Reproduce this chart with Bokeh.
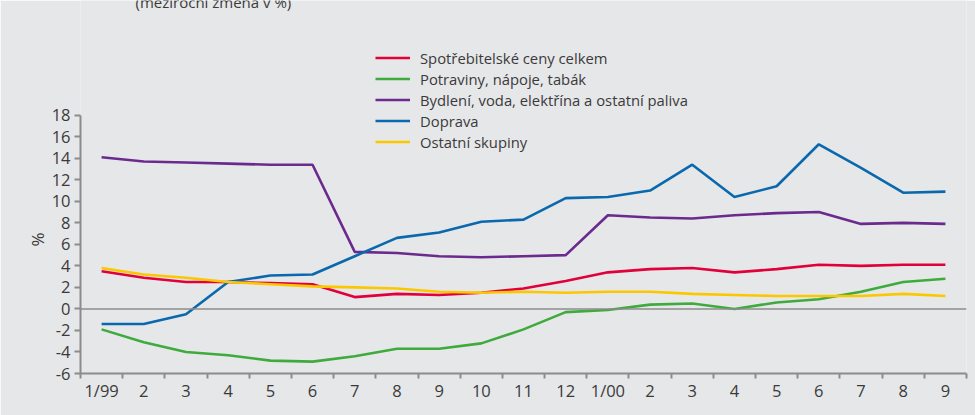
from bokeh.plotting import figure
from bokeh.models import ColumnDataSource, Legend, LegendItem, FixedTicker, Span, Label, Range1d, Title
from bokeh.embed import file_html
from bokeh.resources import INLINE

months = ["1/99", "2", "3", "4", "5", "6", "7", "8", "9", "10", "11", "12",
          "1/00", "2", "3", "4", "5", "6", "7", "8", "9"]

spotrebitelske = [3.5, 2.9, 2.5, 2.5, 2.4, 2.3, 1.1, 1.4, 1.3, 1.5, 1.9, 2.6,
                  3.4, 3.7, 3.8, 3.4, 3.7, 4.1, 4.0, 4.1, 4.1]
potraviny = [-1.9, -3.1, -4.0, -4.3, -4.8, -4.9, -4.4, -3.7, -3.7, -3.2, -1.9, -0.3,
             -0.1, 0.4, 0.5, 0.0, 0.6, 0.9, 1.6, 2.5, 2.8]
bydleni = [14.1, 13.7, 13.6, 13.5, 13.4, 13.4, 5.3, 5.2, 4.9, 4.8, 4.9, 5.0,
           8.7, 8.5, 8.4, 8.7, 8.9, 9.0, 7.9, 8.0, 7.9]
doprava = [-1.4, -1.4, -0.5, 2.5, 3.1, 3.2, 4.9, 6.6, 7.1, 8.1, 8.3, 10.3,
           10.4, 11.0, 13.4, 10.4, 11.4, 15.3, 13.1, 10.8, 10.9]
ostatni = [3.8, 3.2, 2.9, 2.5, 2.3, 2.1, 2.0, 1.9, 1.6, 1.5, 1.6, 1.5,
           1.6, 1.6, 1.4, 1.3, 1.2, 1.2, 1.2, 1.4, 1.2]

series_names = ["Spotřebitelské ceny celkem", "Potraviny, nápoje, tabák",
                "Bydlení, voda, elektřína a ostatní paliva", "Doprava", "Ostatní skupiny"]
series_values = [spotrebitelske, potraviny, bydleni, doprava, ostatni]
series_colors = ["#e2003b", "#3eab3c", "#6b2a8e", "#0a68ad", "#fdc700"]

y_ticks = [-6, -4, -2, 0, 2, 4, 6, 8, 10, 12, 14, 16, 18]
subtitle = "(meziroční změna v %)"
y_unit = "%"

BG = "#e6e7e9"
AX = "#8c8c8c"
TXT = "#3a3a3a"
FONT = "Open Sans"

n = len(months)
xs = [i + 0.5 for i in range(n)]

p = figure(width=975, height=415, output_backend="svg", toolbar_location=None,
           x_range=Range1d(0, n), y_range=Range1d(-6, 28.66),
           min_border_left=80, min_border_right=9, min_border_top=0, min_border_bottom=42)
p.background_fill_color = BG
p.border_fill_color = BG
p.outline_line_color = None
p.xgrid.visible = False
p.ygrid.visible = False

zero = Span(location=0, dimension="width", line_color=AX, line_width=1.5)
p.add_layout(zero)

renderers = []
for vals, col in zip(series_values, series_colors):
    src = ColumnDataSource(dict(x=xs, y=vals))
    r = p.line("x", "y", source=src, line_color=col, line_width=2.6)
    renderers.append(r)

# x axis
p.xaxis.ticker = FixedTicker(ticks=xs, minor_ticks=list(range(n + 1)))
p.xaxis.major_label_overrides = {x: m for x, m in zip(xs, months)}
p.xaxis.major_tick_out = 0
p.xaxis.major_tick_in = 0
p.xaxis.minor_tick_out = 5
p.xaxis.minor_tick_in = 0
p.xaxis.minor_tick_line_color = AX
p.xaxis.minor_tick_line_width = 2
p.xaxis.axis_line_color = AX
p.xaxis.axis_line_width = 2
p.xaxis.major_label_standoff = 0
p.xaxis.major_label_text_font = FONT
p.xaxis.major_label_text_font_size = "16.5px"
p.xaxis.major_label_text_color = TXT

# y axis
p.yaxis.ticker = FixedTicker(ticks=y_ticks, minor_ticks=[])
p.yaxis.bounds = (-6, 18)
p.yaxis.major_label_overrides = {t: str(t) for t in y_ticks}
p.yaxis.major_tick_out = 6
p.yaxis.major_tick_in = 0
p.yaxis.major_tick_line_color = AX
p.yaxis.major_tick_line_width = 2
p.yaxis.axis_line_color = AX
p.yaxis.axis_line_width = 2
p.yaxis.major_label_standoff = 4
p.yaxis.major_label_text_font = FONT
p.yaxis.major_label_text_font_size = "16.5px"
p.yaxis.major_label_text_color = TXT

unit_title = Title(text=y_unit, align="left", offset=127, standoff=0,
                   text_font=FONT, text_font_size="17px", text_font_style="normal",
                   text_color=TXT)
p.add_layout(unit_title, "left")

legend = Legend(items=[LegendItem(label=nm, renderers=[r]) for nm, r in zip(series_names, renderers)],
                location=(295, 221))
legend.background_fill_alpha = 0
legend.border_line_alpha = 0
legend.padding = 0
legend.margin = 0
legend.spacing = 0
legend.label_height = 21
legend.glyph_height = 21
legend.glyph_width = 35
legend.label_standoff = 10
legend.label_text_font = FONT
legend.label_text_font_size = "14.8px"
legend.label_text_color = TXT
p.add_layout(legend)

title = Label(x=55, y=372, x_units="screen", y_units="screen", text=subtitle,
              text_font=FONT, text_font_size="15px", text_color=TXT, text_baseline="alphabetic")
p.add_layout(title)

open("out.html", "w").write(file_html(p, INLINE))
